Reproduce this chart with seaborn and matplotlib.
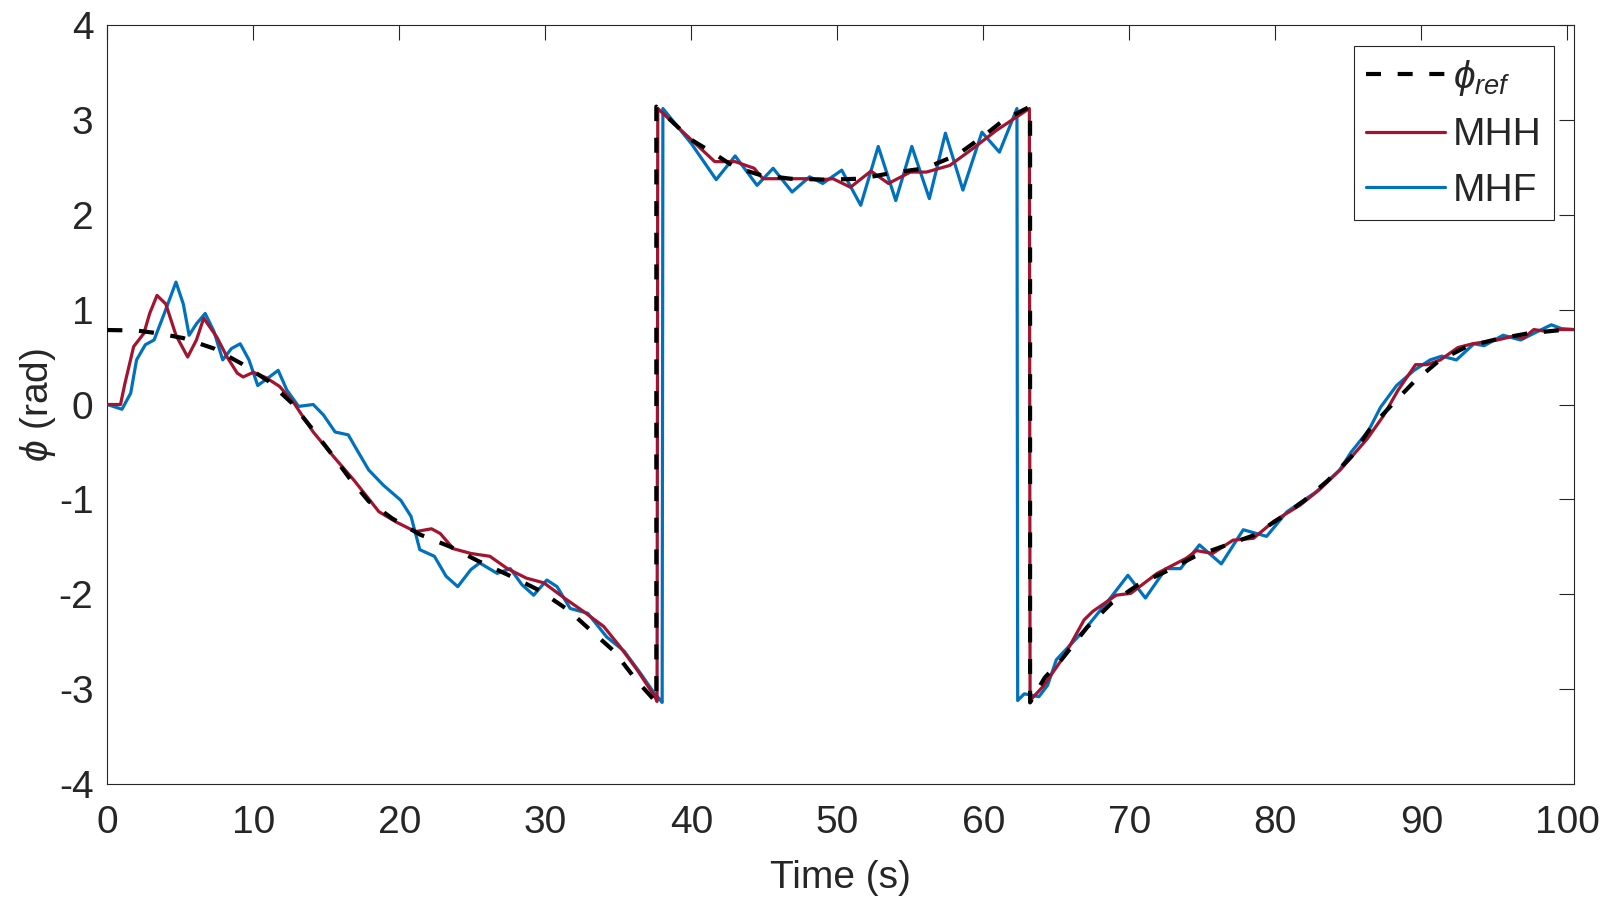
import matplotlib
matplotlib.use("Agg")
import matplotlib.pyplot as plt
import numpy as np
import seaborn as sns

# reference heading (dashed black)
REF_T = [0, 2.0, 3.5, 5.2, 7.3, 9.2, 11.0, 12.6, 14.0, 15.3, 16.6, 17.9, 19.5, 21.4,
         23.5, 25.4, 27.5, 29.6, 31.6, 33.1, 34.7, 36.2, 37.6, 37.6, 40.0, 41.5,
         43.0, 44.7, 46.8, 49.3, 51.6, 53.7, 56.0, 58.2, 60.1, 61.4, 63.2, 63.2,
         64.2, 65.4, 67.1, 68.8, 70.6, 72.5, 74.5, 76.5, 78.5, 80.3, 82.0, 83.6,
         85.2, 86.6, 88.0, 89.5, 91.2, 93.1, 95.2, 97.3, 99.6, 100.46]
REF_Y = [0.785, 0.78, 0.75, 0.70, 0.59, 0.43, 0.25, 0.02, -0.25, -0.51, -0.78, -1.02,
         -1.2, -1.37, -1.5, -1.65, -1.8, -1.96, -2.17, -2.38, -2.6, -2.9, -3.14,
         3.14, 2.79, 2.65, 2.5, 2.42, 2.38, 2.37, 2.38, 2.44, 2.49, 2.63, 2.84,
         3.0, 3.14, -3.14, -2.88, -2.68, -2.35, -2.09, -1.9, -1.76, -1.6, -1.49,
         -1.38, -1.2, -1.01, -0.8, -0.55, -0.23, 0.0, 0.24, 0.46, 0.61, 0.69,
         0.75, 0.785, 0.785]

# MHH (red)
MHH_T = [0, 0.9, 1.2, 1.8, 2.5, 2.9, 3.4, 4.0, 4.7, 5.5, 6.1, 6.6, 7.5, 8.2, 8.9,
         9.3, 10.0, 10.9, 11.8, 12.8, 14.1, 15.5, 16.9, 18.6, 19.8, 21.1, 22.2,
         22.8, 23.7, 24.9, 26.2, 27.4, 28.7, 29.9, 31.3, 32.6, 34.0, 35.1, 36.3,
         37.5, 37.65, 37.7, 40.0, 41.6, 43.0, 44.3, 44.9, 46.5, 47.9, 49.0, 49.7,
         50.9, 52.3, 53.5, 55.0, 56.1, 57.7, 59.3, 60.9, 63.15, 63.2, 64.1,
         65.5, 66.9, 67.5, 69.1, 70.1, 71.9, 73.9, 74.6, 75.7, 77.1, 78.5, 79.9,
         81.7, 83.0, 84.5, 86.3, 87.4, 88.4, 89.6, 90.4, 91.3, 92.5, 93.5, 95.2,
         96.3, 97.0, 97.7, 98.6, 99.5, 100.46]
MHH_Y = [0.0, 0.0, 0.22, 0.61, 0.75, 0.96, 1.15, 1.06, 0.73, 0.50, 0.68, 0.91,
         0.71, 0.50, 0.33, 0.29, 0.34, 0.28, 0.19, 0.01, -0.29, -0.55, -0.80,
         -1.13, -1.24, -1.34, -1.31, -1.36, -1.52, -1.57, -1.60, -1.73, -1.83,
         -1.88, -2.04, -2.18, -2.34, -2.55, -2.80, -3.08, -3.13, 3.12, 2.79,
         2.56, 2.56, 2.49, 2.38, 2.38, 2.38, 2.37, 2.38, 2.29, 2.46, 2.33, 2.45,
         2.45, 2.52, 2.70, 2.89, 3.12, -3.12, -2.97, -2.66, -2.27, -2.18, -2.01,
         -1.99, -1.78, -1.62, -1.54, -1.57, -1.43, -1.41, -1.23, -1.06, -0.90,
         -0.68, -0.36, -0.12, 0.15, 0.42, 0.42, 0.47, 0.60, 0.64, 0.68, 0.72,
         0.70, 0.79, 0.77, 0.79, 0.79]

# MHF (blue)
MHF_T = [0, 0.4, 1.0, 1.6, 2.0, 2.6, 3.2, 3.9, 4.7, 5.2, 5.6, 6.1, 6.7, 7.3, 7.9,
         8.5, 9.1, 9.7, 10.3, 11.1, 11.7, 12.3, 13.1, 14.1, 14.8, 15.6, 16.5,
         17.1, 17.9, 18.9, 20.1, 20.8, 21.4, 22.4, 23.2, 24.0, 24.9, 25.5, 26.7,
         27.6, 28.4, 29.2, 30.1, 30.8, 31.7, 32.9, 34.2, 35.4, 36.5, 37.4, 37.9,
         38.0, 38.05, 40.0, 41.7, 43.0, 44.5, 45.6, 46.9, 48.1, 49.0, 50.3, 51.6,
         52.8, 54.0, 55.1, 56.3, 57.4, 58.6, 59.9, 61.1, 62.3, 62.35, 62.8,
         63.2, 63.8, 64.4, 65.0, 66.9, 68.8, 69.9, 71.1, 72.5, 73.5, 74.8, 76.3,
         77.8, 79.4, 80.8, 82.8, 84.4, 85.2, 86.4, 87.2, 88.3, 89.5, 90.6, 91.4,
         92.4, 93.6, 94.3, 95.6, 96.8, 97.7, 98.9, 99.6, 100.46]
MHF_Y = [0.0, -0.02, -0.05, 0.12, 0.47, 0.63, 0.68, 0.96, 1.29, 1.06, 0.73, 0.85,
         0.96, 0.77, 0.47, 0.59, 0.64, 0.47, 0.20, 0.29, 0.36, 0.15, -0.02, 0.0,
         -0.11, -0.29, -0.32, -0.48, -0.69, -0.85, -1.01, -1.18, -1.53, -1.60,
         -1.81, -1.92, -1.74, -1.67, -1.78, -1.73, -1.90, -2.01, -1.85, -1.92,
         -2.15, -2.20, -2.45, -2.60, -2.83, -3.03, -3.12, -3.14, 3.12, 2.75,
         2.37, 2.62, 2.31, 2.49, 2.24, 2.40, 2.33, 2.47, 2.10, 2.72, 2.15, 2.72,
         2.17, 2.86, 2.26, 2.87, 2.66, 3.12, -3.12, -3.05, -3.06, -3.08, -2.96,
         -2.69, -2.38, -2.02, -1.80, -2.04, -1.73, -1.73, -1.48, -1.68, -1.32,
         -1.39, -1.13, -0.92, -0.69, -0.50, -0.27, -0.03, 0.20, 0.36, 0.47, 0.51,
         0.47, 0.64, 0.62, 0.73, 0.68, 0.75, 0.84, 0.80, 0.79]

X_TICKS = np.arange(0, 101, 10)
Y_TICKS = np.arange(-4, 5, 1)

BLACK = "#000000"
RED = "#A2142F"
BLUE = "#0072BD"
AXIS = "#262626"

sns.set_style("white")
plt.rcParams["font.family"] = ["Liberation Sans", "DejaVu Sans"]
plt.rcParams["mathtext.fontset"] = "custom"
plt.rcParams["mathtext.rm"] = "Liberation Sans"
plt.rcParams["mathtext.it"] = "Liberation Sans:italic"
plt.rcParams["mathtext.fallback"] = "stixsans"
plt.rcParams["axes.unicode_minus"] = False

fig = plt.figure(figsize=(16, 9), dpi=100)
ax = fig.add_axes([0.0671, 0.1289, 0.9167, 0.8433])

sns.lineplot(x=REF_T, y=REF_Y, ax=ax, sort=False, estimator=None, color=BLACK,
             linewidth=3.0, zorder=4, label=r"$\phi_{ref}$")
ax.lines[-1].set_dashes([3.6, 4.0])
sns.lineplot(x=MHH_T, y=MHH_Y, ax=ax, sort=False, estimator=None, color=RED,
             linewidth=2.3, zorder=3, label="MHH")
sns.lineplot(x=MHF_T, y=MHF_Y, ax=ax, sort=False, estimator=None, color=BLUE,
             linewidth=2.3, zorder=2, label="MHF")

ax.set_xlim(0, 100.46)
ax.set_ylim(-4, 4)
ax.set_xticks(X_TICKS)
ax.set_yticks(Y_TICKS)
ax.tick_params(direction="in", length=11, width=0.8, colors=AXIS, labelsize=28,
               top=True, right=True)
ax.tick_params(axis="x", pad=15)
ax.tick_params(axis="y", pad=10)
for s in ax.spines.values():
    s.set_color(AXIS)
    s.set_linewidth(0.8)

ax.set_xlabel("Time (s)", fontsize=28, color=AXIS, labelpad=14)
ax.set_ylabel(r"$\phi$ (rad)", fontsize=28, color=AXIS, labelpad=0.5)

leg = ax.legend(loc="upper right", bbox_to_anchor=(0.986, 0.972), fontsize=28,
                frameon=True, fancybox=False, framealpha=1, edgecolor=AXIS,
                handlelength=2.05, handletextpad=0.2, borderpad=0.3,
                labelspacing=0.5, borderaxespad=0)
leg.get_frame().set_linewidth(0.8)

fig.savefig("out.png", dpi=100, facecolor="white")
